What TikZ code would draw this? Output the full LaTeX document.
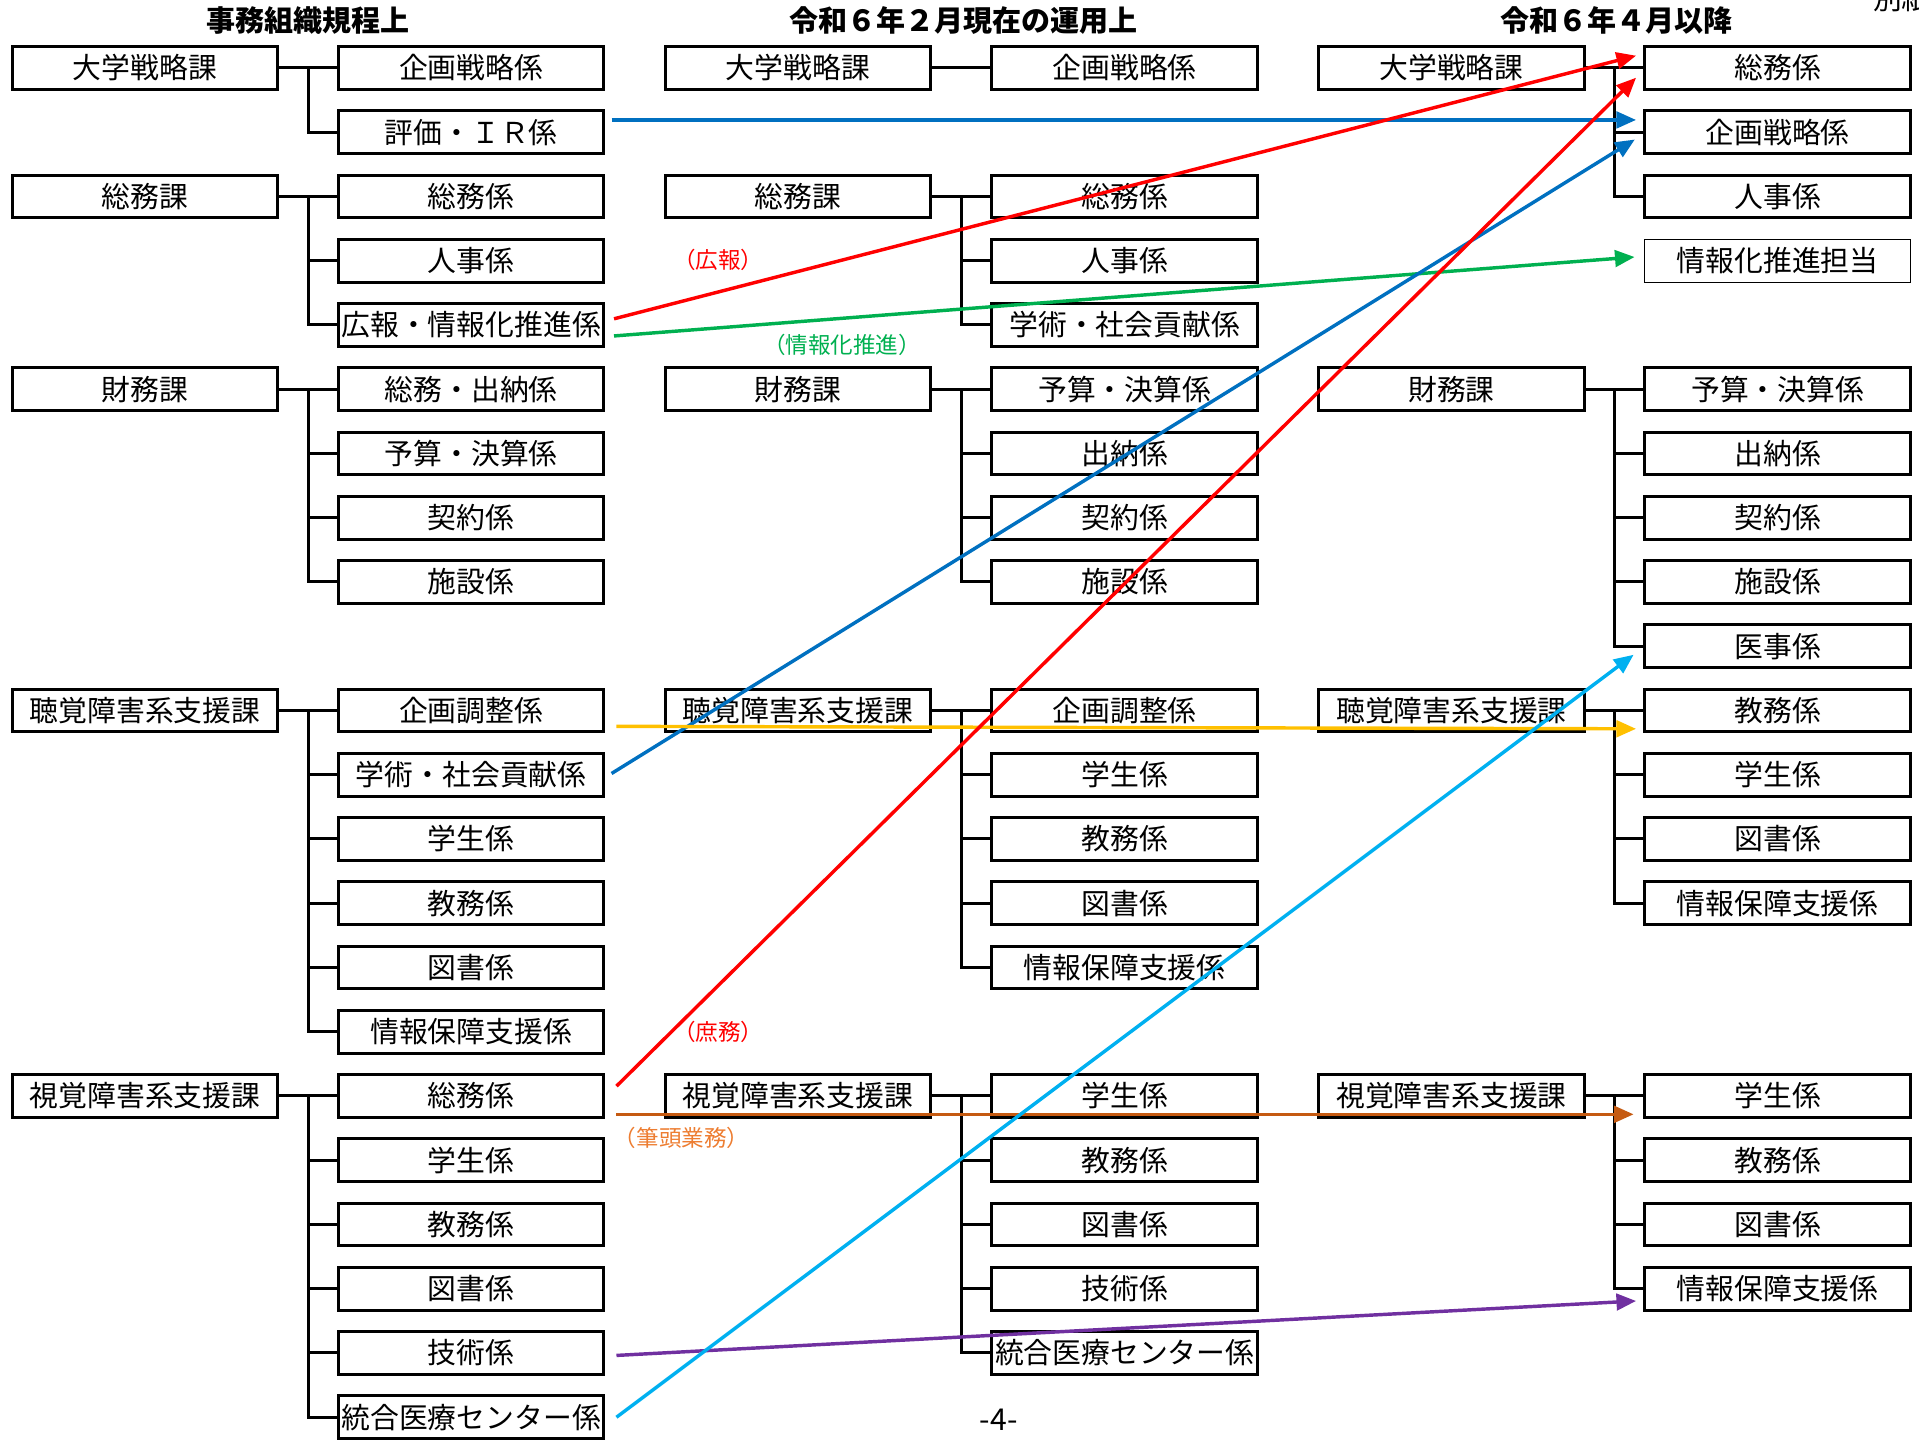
\documentclass[tikz,border=0pt]{standalone}
\usepackage{fontspec}
\usepackage{tikz}
\usetikzlibrary{arrows.meta,calc}
\newfontfamily\jp{Noto Sans CJK JP}
\definecolor{kblue}{HTML}{0070C0}
\definecolor{kred}{HTML}{FF0000}
\definecolor{kgreen}{HTML}{00B050}
\definecolor{kyellow}{HTML}{FFC000}
\definecolor{kcyan}{HTML}{00B0F0}
\definecolor{korange}{HTML}{C55A11}
\definecolor{klorange}{HTML}{ED7D31}
\definecolor{kpurple}{HTML}{7030A0}
\tikzset{%
	sectbox/.style = {draw, rectangle, line width=1.4pt, minimum width=4.34cm, minimum height=0.7cm, inner sep=0pt, font=\jp\fontsize{13.4}{16}\selectfont}, % 課・係
	tanto/.style   = {sectbox, line width=0.5pt}, % 担当
	tree/.style    = {line width=1.4pt}, % 組織線
	idou/.style    = {line width=1.6pt, -{Triangle[length=0.32cm,width=0.27cm]}}, % 移管
	note/.style    = {font=\jp\fontsize{10.5}{12}\selectfont}, % 業務名
	head/.style    = {font=\jp\bfseries\fontsize{13.5}{16}\selectfont}, % 見出し
}
\begin{document}
\begin{tikzpicture}[x=0.02cm,y=-0.02cm]
	\useasboundingbox (0,0) rectangle (1568,1176);
	\node[head] (ta) at (252,17) {事務組織規程上};
	\node[head] (tb) at (787,17) {令和６年２月現在の運用上};
	\node[head] (tc) at (1321,17) {令和６年４月以降};
	\node[font=\jp\fontsize{13.4}{16}\selectfont] (bessi) at (1554,-1) {別紙};
	\node[font=\jp\fontsize{14}{16}\selectfont] (page) at (816,1160) {-4-};

	\node[sectbox] (pa0) at (118.5,55.5) {大学戦略課};
	\node[sectbox] (pa2) at (118.5,160.5) {総務課};
	\node[sectbox] (pa5) at (118.5,318) {財務課};
	\node[sectbox] (pa10) at (118.5,580.5) {聴覚障害系支援課};
	\node[sectbox] (pa16) at (118.5,895.5) {視覚障害系支援課};
	\node[sectbox] (ca0) at (385,55.5) {企画戦略係};
	\node[sectbox] (ca1) at (385,108) {評価・ＩＲ係};
	\node[sectbox] (ca2) at (385,160.5) {総務係};
	\node[sectbox] (ca3) at (385,213) {人事係};
	\node[sectbox] (ca4) at (385,265.5) {広報・情報化推進係};
	\node[sectbox] (ca5) at (385,318) {総務・出納係};
	\node[sectbox] (ca6) at (385,370.5) {予算・決算係};
	\node[sectbox] (ca7) at (385,423) {契約係};
	\node[sectbox] (ca8) at (385,475.5) {施設係};
	\node[sectbox] (ca10) at (385,580.5) {企画調整係};
	\node[sectbox] (ca11) at (385,633) {学術・社会貢献係};
	\node[sectbox] (ca12) at (385,685.5) {学生係};
	\node[sectbox] (ca13) at (385,738) {教務係};
	\node[sectbox] (ca14) at (385,790.5) {図書係};
	\node[sectbox] (ca15) at (385,843) {情報保障支援係};
	\node[sectbox] (ca16) at (385,895.5) {総務係};
	\node[sectbox] (ca17) at (385,948) {学生係};
	\node[sectbox] (ca18) at (385,1000.5) {教務係};
	\node[sectbox] (ca19) at (385,1053) {図書係};
	\node[sectbox] (ca20) at (385,1105.5) {技術係};
	\node[sectbox] (ca21) at (385,1158) {統合医療センター係};

	\node[sectbox] (pb0) at (652,55.5) {大学戦略課};
	\node[sectbox] (pb2) at (652,160.5) {総務課};
	\node[sectbox] (pb5) at (652,318) {財務課};
	\node[sectbox] (pb10) at (652,580.5) {聴覚障害系支援課};
	\node[sectbox] (pb16) at (652,895.5) {視覚障害系支援課};
	\node[sectbox] (cb0) at (919,55.5) {企画戦略係};
	\node[sectbox] (cb2) at (919,160.5) {総務係};
	\node[sectbox] (cb3) at (919,213) {人事係};
	\node[sectbox] (cb4) at (919,265.5) {学術・社会貢献係};
	\node[sectbox] (cb5) at (919,318) {予算・決算係};
	\node[sectbox] (cb6) at (919,370.5) {出納係};
	\node[sectbox] (cb7) at (919,423) {契約係};
	\node[sectbox] (cb8) at (919,475.5) {施設係};
	\node[sectbox] (cb10) at (919,580.5) {企画調整係};
	\node[sectbox] (cb11) at (919,633) {学生係};
	\node[sectbox] (cb12) at (919,685.5) {教務係};
	\node[sectbox] (cb13) at (919,738) {図書係};
	\node[sectbox] (cb14) at (919,790.5) {情報保障支援係};
	\node[sectbox] (cb16) at (919,895.5) {学生係};
	\node[sectbox] (cb17) at (919,948) {教務係};
	\node[sectbox] (cb18) at (919,1000.5) {図書係};
	\node[sectbox] (cb19) at (919,1053) {技術係};
	\node[sectbox] (cb20) at (919,1105.5) {統合医療センター係};

	\node[sectbox] (pc0) at (1186,55.5) {大学戦略課};
	\node[sectbox] (pc5) at (1186,318) {財務課};
	\node[sectbox] (pc10) at (1186,580.5) {聴覚障害系支援課};
	\node[sectbox] (pc16) at (1186,895.5) {視覚障害系支援課};
	\node[sectbox] (cc0) at (1452.5,55.5) {総務係};
	\node[sectbox] (cc1) at (1452.5,108) {企画戦略係};
	\node[sectbox] (cc2) at (1452.5,160.5) {人事係};
	\node[tanto] (cc3) at (1452.5,213) {情報化推進担当};
	\node[sectbox] (cc5) at (1452.5,318) {予算・決算係};
	\node[sectbox] (cc6) at (1452.5,370.5) {出納係};
	\node[sectbox] (cc7) at (1452.5,423) {契約係};
	\node[sectbox] (cc8) at (1452.5,475.5) {施設係};
	\node[sectbox] (cc9) at (1452.5,528) {医事係};
	\node[sectbox] (cc10) at (1452.5,580.5) {教務係};
	\node[sectbox] (cc11) at (1452.5,633) {学生係};
	\node[sectbox] (cc12) at (1452.5,685.5) {図書係};
	\node[sectbox] (cc13) at (1452.5,738) {情報保障支援係};
	\node[sectbox] (cc16) at (1452.5,895.5) {学生係};
	\node[sectbox] (cc17) at (1452.5,948) {教務係};
	\node[sectbox] (cc18) at (1452.5,1000.5) {図書係};
	\node[sectbox] (cc19) at (1452.5,1053) {情報保障支援係};

	\foreach \g in {a0,a2,a5,a10,a16,b0,b2,b5,b10,b16,c0,c5,c10,c16}
		\draw[tree] (p\g.east) -- (c\g.west);
	\foreach \g/\k in {a0/a1,a2/a3,a2/a4,a5/a6,a5/a7,a5/a8,a10/a11,a10/a12,a10/a13,a10/a14,a10/a15,
		a16/a17,a16/a18,a16/a19,a16/a20,a16/a21,b2/b3,b2/b4,b5/b6,b5/b7,b5/b8,
		b10/b11,b10/b12,b10/b13,b10/b14,b16/b17,b16/b18,b16/b19,b16/b20,
		c0/c1,c0/c2,c5/c6,c5/c7,c5/c8,c5/c9,c10/c11,c10/c12,c10/c13,c16/c17,c16/c18,c16/c19}
		\draw[tree] ($(p\g.east)!0.5!(c\g.west)$) |- (c\k.west);

	\draw[idou, kblue] ($(ca1.east)+(5,-10)$) -- ($(cc1.west)+(-6,-10)$);
	\draw[idou, kred] ($(ca4.east)+(7,-5)$) -- ($(cc0.west)+(-6,-10)$);
	\draw[idou, kgreen] ($(ca4.east)+(7,9)$) -- ($(cc3.west)+(-8,-3)$);
	\draw[idou, kblue] ($(ca11.east)+(5,-1)$) -- ($(cc1.west)+(-7,6)$);
	\draw[idou, kyellow] ($(ca10.east)+(9,13)$) -- ($(cc10.west)+(-6,15)$);
	\draw[idou, kred] ($(ca16.east)+(9,-8)$) -- ($(cc0.west)+(-6,8)$);
	\draw[idou, korange] ($(ca16.east)+(9,15)$) -- ($(cc16.west)+(-8,15)$);
	\draw[idou, kpurple] ($(ca20.east)+(9,2)$) -- ($(cc19.west)+(-6,10)$);
	\draw[idou, kcyan] ($(ca21.east)+(9,0)$) -- ($(cc9.west)+(-8,7)$);

	\node[note, kred] (koho) at (587,212) {（広報）};
	\node[note, kgreen] (johoka) at (688,282) {（情報化推進）};
	\node[note, kred] (shomu) at (587,843) {（庶務）};
	\node[note, klorange] (hitto) at (557,930) {（筆頭業務）};
\end{tikzpicture}
\end{document}
